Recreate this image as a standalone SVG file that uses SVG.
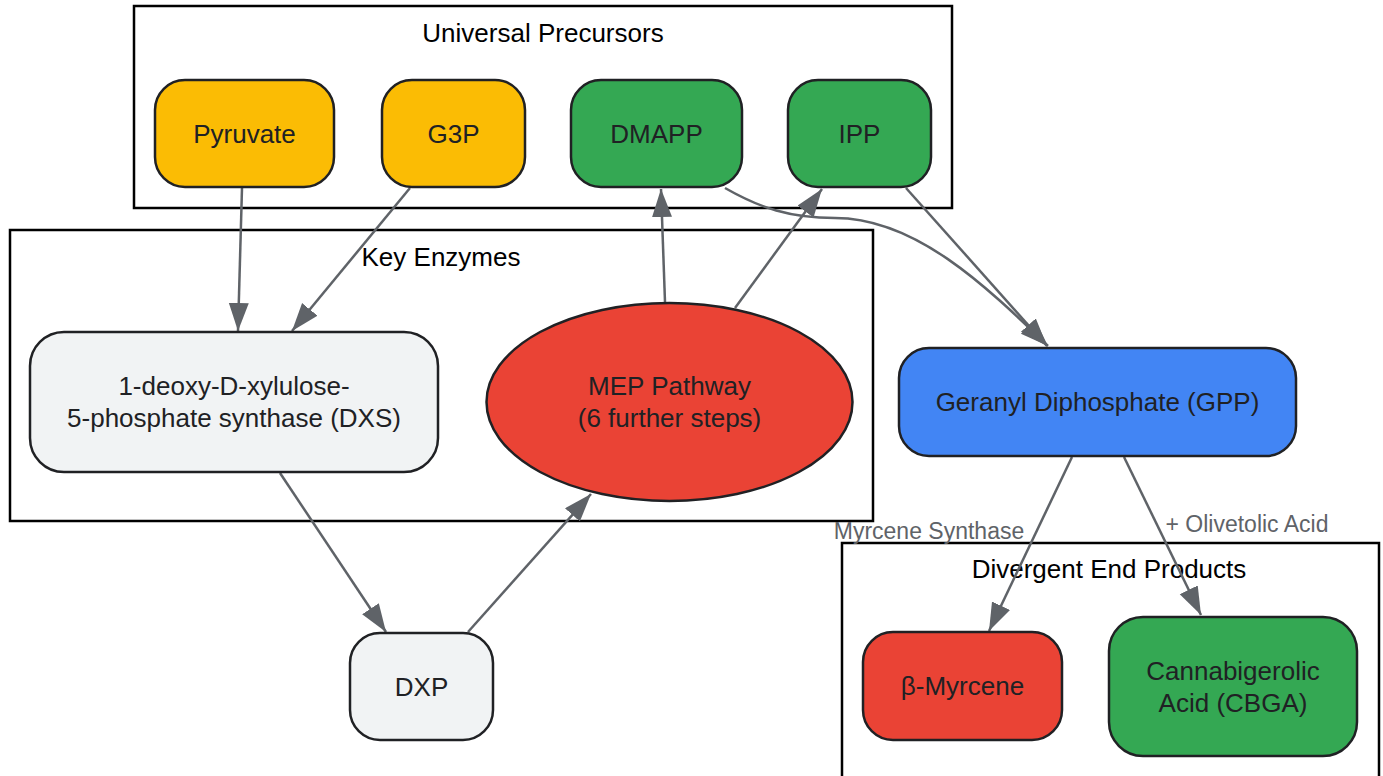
<svg xmlns="http://www.w3.org/2000/svg" width="1383" height="776" viewBox="0 0 1383 776">
<style>
  .cluster { fill: none; stroke: #000; stroke-width: 2.5; }
  .ctitle { font-family: "Liberation Sans", Arial, sans-serif; font-size: 26px; fill: #000; text-anchor: middle; }
  .node { stroke: #202124; stroke-width: 2.5; }
  .ntext { font-family: "Liberation Sans", Arial, sans-serif; font-size: 26px; fill: #202124; text-anchor: middle; }
  .yellow { fill: #FBBC04; }
  .green { fill: #34A853; }
  .red { fill: #EA4335; }
  .blue { fill: #4285F4; }
  .grey { fill: #F1F3F4; }
  .edge { fill: none; stroke: #5f6368; stroke-width: 2.5; marker-end: url(#arrow); }
  .elabel { font-family: "Liberation Sans", Arial, sans-serif; font-size: 23px; fill: #5f6368; text-anchor: middle; }
</style>
<defs>
  <marker id="arrow" markerUnits="userSpaceOnUse" markerWidth="30" markerHeight="22" refX="28" refY="10" orient="auto">
    <path d="M0,0 L28,10 L0,20 z" fill="#5f6368"/>
  </marker>
</defs>
<rect width="1383" height="776" fill="#fff"/>

<g id="clusters">
  <g id="cluster-precursors">
    <rect class="cluster" x="134" y="6" width="818" height="202"/>
    <text class="ctitle" x="543" y="42">Universal Precursors</text>
  </g>
  <g id="cluster-enzymes">
    <rect class="cluster" x="10" y="230" width="863" height="291"/>
    <text class="ctitle" x="441" y="266">Key Enzymes</text>
  </g>
  <g id="cluster-products">
    <rect class="cluster" x="842" y="543" width="537" height="250"/>
    <text class="ctitle" x="1109" y="578">Divergent End Products</text>
  </g>
</g>

<g id="connectors">
  <path class="edge" d="M242,188 L238,331"/>
  <path class="edge" d="M410,188 L292,331"/>
  <path class="edge" d="M280,473 L386,632"/>
  <path class="edge" d="M468,632 L591,494"/>
  <path class="edge" d="M665,302 L661,189"/>
  <path class="edge" d="M735,308 L822,189"/>
  <path class="edge" d="M725,188 C760,208 790,218 835,218 C915,218 985,285 1048,346"/>
  <path class="edge" d="M906,188 L1047,346"/>
  <path class="edge" d="M1072,457 L989,631"/>
  <path class="edge" d="M1124,457 L1201,615"/>
  <text class="elabel" x="929" y="539">Myrcene Synthase</text>
  <text class="elabel" x="1247" y="532">+ Olivetolic Acid</text>
</g>

<g id="node-pyruvate">
  <rect class="node yellow" x="155" y="80" width="179" height="107" rx="30"/>
  <text class="ntext" x="244.5" y="143">Pyruvate</text>
</g>
<g id="node-g3p">
  <rect class="node yellow" x="382" y="80" width="143" height="107" rx="30"/>
  <text class="ntext" x="453.5" y="143">G3P</text>
</g>
<g id="node-dmapp">
  <rect class="node green" x="571" y="80" width="171" height="107" rx="30"/>
  <text class="ntext" x="656.5" y="143">DMAPP</text>
</g>
<g id="node-ipp">
  <rect class="node green" x="788" y="80" width="143" height="107" rx="30"/>
  <text class="ntext" x="859.5" y="143">IPP</text>
</g>
<g id="node-dxs">
  <rect class="node grey" x="30" y="332" width="408" height="140" rx="34"/>
  <text class="ntext" x="234" y="395">1-deoxy-D-xylulose-</text>
  <text class="ntext" x="234" y="427">5-phosphate synthase (DXS)</text>
</g>
<g id="node-mep">
  <ellipse class="node red" cx="669.5" cy="402" rx="183" ry="99"/>
  <text class="ntext" x="669.5" y="395">MEP Pathway</text>
  <text class="ntext" x="669.5" y="427">(6 further steps)</text>
</g>
<g id="node-dxp">
  <rect class="node grey" x="350" y="633" width="143" height="107" rx="30"/>
  <text class="ntext" x="421.5" y="696">DXP</text>
</g>
<g id="node-gpp">
  <rect class="node blue" x="899" y="348" width="397" height="108" rx="30"/>
  <text class="ntext" x="1097.5" y="411">Geranyl Diphosphate (GPP)</text>
</g>
<g id="node-myrcene">
  <rect class="node red" x="863" y="632" width="199" height="108" rx="30"/>
  <text class="ntext" x="962.5" y="695">β-Myrcene</text>
</g>
<g id="node-cbga">
  <rect class="node green" x="1109" y="617" width="248" height="139" rx="34"/>
  <text class="ntext" x="1233" y="680">Cannabigerolic</text>
  <text class="ntext" x="1233" y="712">Acid (CBGA)</text>
</g>
</svg>
